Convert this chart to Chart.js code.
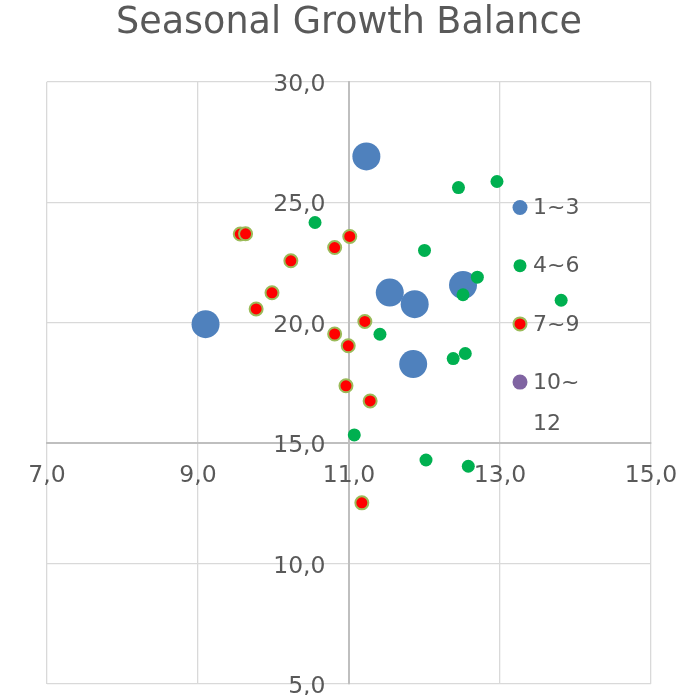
<!DOCTYPE html>
<html><head><meta charset="utf-8">
<script src="https://cdn.jsdelivr.net/npm/chart.js@4.4.0/dist/chart.umd.min.js"></script>
<style>html,body{margin:0;padding:0;background:#fff;overflow:hidden;}</style>
</head><body>
<canvas id="c" width="681" height="695"></canvas>
<script>
const chartTitle = 'Seasonal Growth Balance';
const seriesNames = ['1~3', '4~6', '7~9', '10~12'];
const q1X = [11.23, 9.10, 11.54, 11.87, 12.51, 11.85];
const q1Y = [26.90, 19.94, 21.25, 20.77, 21.56, 18.28];
const q2X = [10.55, 12.00, 12.45, 12.96, 12.70, 12.51, 11.41, 12.38, 12.54, 13.81, 11.07, 12.02, 12.58];
const q2Y = [24.16, 23.00, 25.61, 25.86, 21.89, 21.16, 19.52, 18.51, 18.72, 20.93, 15.34, 14.30, 14.04];
const q3X = [9.56, 9.63, 11.01, 10.81, 10.23, 9.98, 9.77, 11.21, 10.81, 10.99, 10.96, 11.28, 11.17];
const q3Y = [23.68, 23.69, 23.58, 23.12, 22.57, 21.24, 20.57, 20.05, 19.53, 19.04, 17.38, 16.75, 12.52];
const q4X = [];
const q4Y = [];
const xTickLabels = ['7,0', '9,0', '11,0', '13,0', '15,0'];
const yTickLabels = ['5,0', '10,0', '15,0', '20,0', '25,0', '30,0'];
const xCrossAt = 15;   // horizontal axis crosses the vertical one at y = 15
const yCrossAt = 11;   // vertical axis crosses the horizontal one at x = 11

const toPts = (xs, ys) => xs.map((x, i) => ({x: x, y: ys[i]}));
const FONT = 'DejaVu Sans';
const TXT = '#595959';

const axisLabels = {
  id: 'axisLabels',
  afterDatasetsDraw(chart) {
    const {ctx, scales} = chart;
    const sx = scales.x, sy = scales.y;
    ctx.save();
    ctx.font = '23.5px "' + FONT + '"';
    ctx.fillStyle = TXT;
    ctx.textBaseline = 'alphabetic';
    const ax = sx.getPixelForValue(yCrossAt);
    const ay = sy.getPixelForValue(xCrossAt);
    ctx.textAlign = 'center';
    sx.ticks.forEach((t, i) => ctx.fillText(xTickLabels[i], sx.getPixelForValue(t.value), ay + 39));
    ctx.textAlign = 'right';
    sy.ticks.forEach((t, i) => ctx.fillText(yTickLabels[i], ax - 23.5, sy.getPixelForValue(t.value) + 9));
    ctx.restore();
  }
};

const sideLegend = {
  id: 'sideLegend',
  afterDraw(chart) {
    const ctx = chart.ctx;
    ctx.save();
    ctx.font = '22px "' + FONT + '"';
    ctx.textBaseline = 'middle';
    ctx.textAlign = 'left';
    const mx = 520, tx = 533, y0 = 207.5, step = 58.2, maxW = 60;
    chart.data.datasets.forEach((ds, i) => {
      const y = y0 + i * step;
      ctx.beginPath();
      ctx.arc(mx, y, ds.legendRadius, 0, Math.PI * 2);
      ctx.fillStyle = ds.backgroundColor;
      ctx.fill();
      if (ds.borderWidth) {
        ctx.lineWidth = ds.borderWidth;
        ctx.strokeStyle = ds.borderColor;
        ctx.stroke();
      }
      let lines = [ds.label];
      if (ctx.measureText(ds.label).width > maxW) {
        const k = ds.label.indexOf('~') + 1;
        lines = [ds.label.slice(0, k), ds.label.slice(k)];
      }
      ctx.fillStyle = TXT;
      lines.forEach((t, j) => ctx.fillText(t, tx, y + 1 + j * 41));
    });
    ctx.restore();
  }
};

new Chart(document.getElementById('c'), {
  type: 'scatter',
  data: {
    datasets: [
      {label: seriesNames[0], data: toPts(q1X, q1Y), backgroundColor: '#4f81bd', borderColor: '#4f81bd', borderWidth: 0, pointRadius: 14, pointHoverRadius: 14, legendRadius: 7.5, order: 4},
      {label: seriesNames[1], data: toPts(q2X, q2Y), backgroundColor: '#00b050', borderColor: '#00b050', borderWidth: 0, pointRadius: 6.5, pointHoverRadius: 6.5, legendRadius: 6.5, order: 3},
      {label: seriesNames[2], data: toPts(q3X, q3Y), backgroundColor: '#ff0000', borderColor: '#9bbb59', borderWidth: 2, pointRadius: 6.5, pointHoverRadius: 6.5, legendRadius: 6.5, order: 2},
      {label: seriesNames[3], data: toPts(q4X, q4Y), backgroundColor: '#8064a2', borderColor: '#8064a2', borderWidth: 0, pointRadius: 7, pointHoverRadius: 7, legendRadius: 7.5, order: 1}
    ]
  },
  options: {
    responsive: false,
    animation: false,
    layout: {autoPadding: false, padding: {left: 47, right: 30, top: 0, bottom: 11}},
    plugins: {
      legend: {display: false},
      tooltip: {enabled: false},
      title: {
        display: true, text: chartTitle, color: TXT,
        font: {family: FONT, size: 36.5, weight: 'normal'},
        padding: {top: 2, bottom: 36}
      }
    },
    scales: {
      x: {
        type: 'linear', min: 7, max: 15,
        position: {y: xCrossAt},
        grid: {color: '#d9d9d9', lineWidth: 1.3, drawTicks: false},
        border: {color: '#bfbfbf', width: 2},
        ticks: {stepSize: 2, display: false, autoSkip: false, padding: 0, font: {size: 1, lineHeight: 1}}
      },
      y: {
        type: 'linear', min: 5, max: 30,
        position: {x: yCrossAt},
        grid: {color: '#d9d9d9', lineWidth: 1.3, drawTicks: false},
        border: {color: '#bfbfbf', width: 2},
        ticks: {stepSize: 5, display: false, autoSkip: false, padding: 0, font: {size: 1, lineHeight: 1}}
      }
    }
  },
  plugins: [axisLabels, sideLegend]
});
</script>
</body></html>
